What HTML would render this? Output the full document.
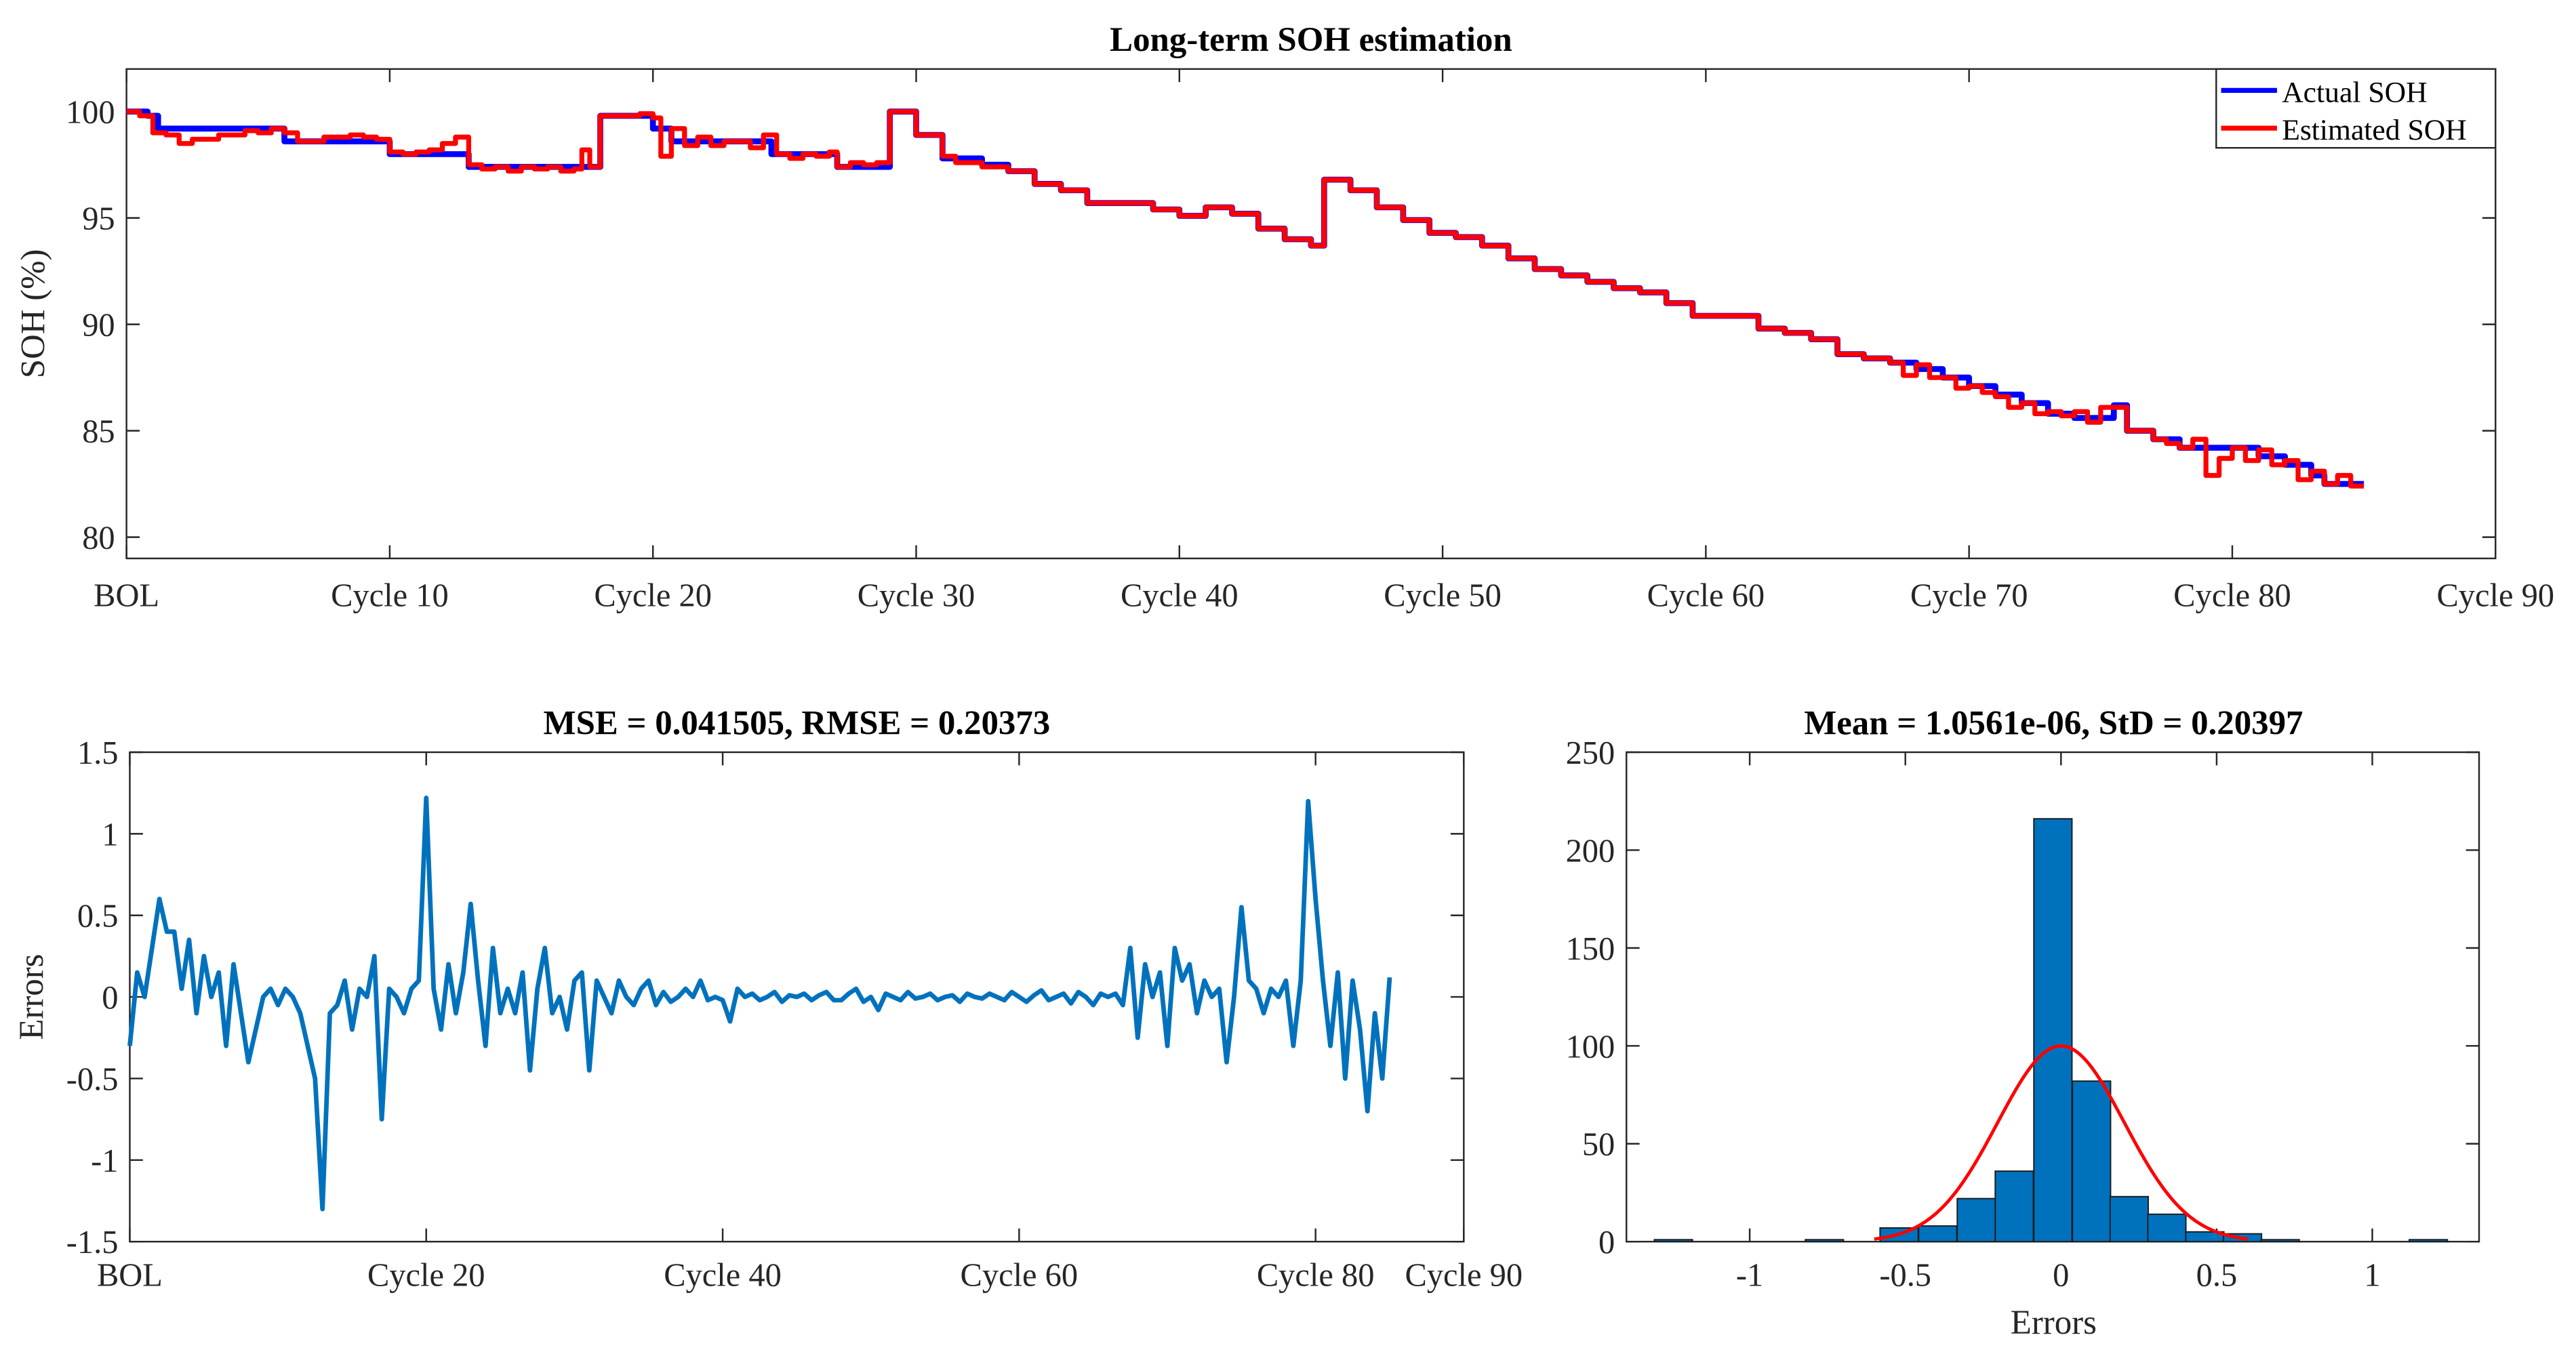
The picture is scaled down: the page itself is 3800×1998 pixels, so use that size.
<!DOCTYPE html>
<html><head><meta charset="utf-8">
<style>
html,body{margin:0;padding:0;background:#fff;}
svg{display:block;font-family:"Liberation Serif","Times New Roman",serif;}
</style></head>
<body>
<svg id="fig" width="3800" height="1998" viewBox="0 0 1568 824.4" xmlns="http://www.w3.org/2000/svg">
<rect width="1568" height="824.4" fill="#fff"/>
<g id="top"></g>
<g id="err"></g>
<g id="hist"></g>
</svg>
<script>
// ---- Top chart data ----
const actualX=[0,0.8,1.2,6,10,13,18,20,20.7,24.5,27,29,30,31,32.5,33.5,34.5,35.5,36.5,39,40,41,42,43,44,45,45.5,46.5,47.5,48.5,49.5,50.5,51.5,52.5,53.5,54.5,55.5,56.5,57.5,58.5,59.5,62,63,64,65,66,67,68,69,70,71,72,73,74,75.5,76,77,78,81,82,83,83.5,85];
const actualY=[100,99.8,99.2,98.6,98.0,97.4,99.8,99.2,98.6,98.0,97.4,100,98.9,97.8,97.5,97.2,96.6,96.3,95.7,95.4,95.1,95.5,95.2,94.5,94.0,93.7,96.8,96.3,95.5,94.9,94.3,94.1,93.7,93.1,92.6,92.3,92.0,91.7,91.5,91.0,90.4,89.8,89.6,89.3,88.6,88.4,88.2,87.9,87.5,87.1,86.7,86.3,85.8,85.6,86.2,85.0,84.6,84.2,83.8,83.4,82.9,82.5,82.5];
const estX=[0,0.5,1,1.5,2,2.5,3,3.5,4,4.5,5,5.5,6,6.5,7,7.5,8,8.5,9,9.5,10,10.5,11,11.5,12,12.5,13,13.5,14,14.5,15,15.5,16,16.5,17,17.3,17.6,18,19,19.5,20,20.3,20.7,21.2,21.7,22.2,22.7,23.2,23.7,24.2,24.7,25.2,25.7,26.2,26.7,27,27.5,28,28.5,29,30,30.5,31,31.5,32,32.5,33.5,34.5,35.5,36.5,39,40,41,42,43,44,45,45.5,46.5,47.5,48.5,49.5,50.5,51.5,52.5,53.5,54.5,55.5,56.5,57.5,58.5,59.5,62,63,64,65,66,67,67.5,68,68.5,69,69.5,70,70.5,71,71.5,72,72.5,73,73.5,74,74.5,75,75.5,76,76.5,77,77.5,78,78.5,79,79.5,80,80.5,81,81.5,82,82.5,83,83.5,84,84.5,85];
const estY=[100,99.8,99.0,98.9,98.5,98.7,98.7,98.9,98.9,99.1,99.0,99.2,99.0,98.6,98.6,98.8,98.8,98.9,98.8,98.7,98.1,98.0,98.1,98.2,98.5,98.8,97.5,97.3,97.4,97.2,97.4,97.3,97.4,97.2,97.3,98.2,97.4,99.8,99.8,99.9,99.7,97.9,99.2,98.4,98.8,98.4,98.6,98.6,98.3,98.9,98.0,97.8,98.0,97.9,98.1,97.4,97.6,97.5,97.6,100,98.9,98.9,97.9,97.6,97.6,97.4,97.2,96.6,96.3,95.7,95.4,95.1,95.5,95.2,94.5,94.0,93.7,96.8,96.3,95.5,94.9,94.3,94.1,93.7,93.1,92.6,92.3,92.0,91.7,91.5,91.0,90.4,89.8,89.6,89.3,88.6,88.4,88.2,87.6,88.1,87.5,87.5,87.0,87.1,86.8,86.6,86.1,86.3,85.8,85.9,85.7,85.9,85.4,86.1,86.1,85.0,85.0,84.6,84.4,84.2,84.6,82.9,83.7,84.2,83.6,84.1,83.4,83.6,82.7,83.1,82.5,82.9,82.4];
const topYTicks=[80,85,90,95,100];
const topXTicks=[0,10,20,30,40,50,60,70,80,90];
const topXLabels=["BOL","Cycle 10","Cycle 20","Cycle 30","Cycle 40","Cycle 50","Cycle 60","Cycle 70","Cycle 80","Cycle 90"];
// ---- Error chart data (every 0.5 cycle from 0) ----
const errVals=[-0.3,0.15,0.0,0.3,0.6,0.4,0.4,0.05,0.35,-0.1,0.25,0.0,0.15,-0.3,0.2,-0.1,-0.4,-0.2,0.0,0.05,-0.05,0.05,0.0,-0.1,-0.3,-0.5,-1.3,-0.1,-0.05,0.1,-0.2,0.05,0.0,0.25,-0.75,0.05,0.0,-0.1,0.05,0.1,1.22,0.05,-0.2,0.2,-0.1,0.15,0.57,0.1,-0.3,0.3,-0.1,0.05,-0.1,0.15,-0.45,0.05,0.3,-0.1,0.0,-0.2,0.1,0.15,-0.45,0.1,0.0,-0.1,0.1,0.0,-0.05,0.05,0.1,-0.05,0.03,-0.03,0.0,0.05,0.0,0.1,-0.02,0.0,-0.02,-0.15,0.05,0.0,0.02,-0.02,0.0,0.03,-0.03,0.01,0.0,0.02,-0.02,0.01,0.03,-0.02,-0.02,0.02,0.05,-0.03,0.0,-0.08,0.02,0.0,-0.02,0.03,-0.01,0.0,0.02,-0.02,0.0,0.01,-0.03,0.02,0.0,-0.01,0.02,0.0,-0.02,0.03,0.0,-0.03,0.01,0.04,-0.02,0.0,0.02,-0.04,0.03,0.0,-0.05,0.02,0.0,0.02,-0.05,0.3,-0.25,0.2,0.0,0.15,-0.3,0.3,0.1,0.2,-0.1,0.1,0.0,0.05,-0.4,0.0,0.55,0.1,0.05,-0.1,0.05,0.0,0.1,-0.3,0.1,1.2,0.6,0.1,-0.3,0.15,-0.5,0.1,-0.2,-0.7,-0.1,-0.5,0.12];
const errYTicks=[-1.5,-1,-0.5,0,0.5,1,1.5];
const errYLabels=["-1.5","-1","-0.5","0","0.5","1","1.5"];
const errXTicks=[0,20,40,60,80,90];
const errXLabels=["BOL","Cycle 20","Cycle 40","Cycle 60","Cycle 80","Cycle 90"];
// ---- Histogram data ----
const binCenters=[-1.245,-0.76,-0.52,-0.396,-0.272,-0.15,-0.026,0.098,0.219,0.34,0.462,0.583,0.704,1.18];
const binCounts=[1,1,7,8,22,36,216,82,23,14,5,4,1,1];
const binWidth=0.1225;
const fitMean=0.0, fitStd=0.20397, fitPeak=100;
const histYTicks=[0,50,100,150,200,250];
const histXTicks=[-1,-0.5,0,0.5,1];
const histXLabels=["-1","-0.5","0","0.5","1"];

const NS="http://www.w3.org/2000/svg";
function mk(parent,tag,attrs,text){const e=document.createElementNS(NS,tag);for(const k in attrs)e.setAttribute(k,attrs[k]);if(text!==undefined)e.textContent=text;parent.appendChild(e);return e;}
function axisBox(g,L,T,R,B){
  const b=mk(g,'rect',{x:L,y:T,width:R-L,height:B-T,fill:'#fff',stroke:'#262626','stroke-width':1});
  
  
}
function lineThrough(g,xs,ys,sx,sy,color,w,name){
  let d='';for(let i=0;i<xs.length;i++)d+=(i?'L':'M')+sx(xs[i]).toFixed(2)+','+sy(ys[i]).toFixed(2);
  const p=mk(g,'path',{d:d,fill:'none',stroke:color,'stroke-width':w,'stroke-linejoin':'round'});
  
  
  return p;
}
function stepThrough(g,xs,ys,sx,sy,color,w,name){
  let d='M'+sx(xs[0])+','+sy(ys[0]);
  for(let i=1;i<xs.length;i++){d+='L'+sx(xs[i])+','+sy(ys[i-1])+'L'+sx(xs[i])+','+sy(ys[i]);}
  const p=mk(g,'path',{d:d,fill:'none',stroke:color,'stroke-width':w,'stroke-linejoin':'round'});
  
  
}

// ===== Top chart =====
(function(){
  const g=document.getElementById('top');
  const L=77,R=1519,T=42,B=340, x0=0,x1=90,y0=79,y1=102;
  const sx=v=>L+(v-x0)/(x1-x0)*(R-L), sy=v=>B-(v-y0)/(y1-y0)*(B-T);
  axisBox(g,L,T,R,B);
  const t=mk(g,'text',{x:798,y:31,'text-anchor':'middle','font-size':21,'font-weight':'bold'},'Long-term SOH estimation');
  
  topXTicks.forEach((v,i)=>{
    const x=sx(v);
    mk(g,'line',{x1:x,y1:B,x2:x,y2:B-8,stroke:'#262626'});
    mk(g,'line',{x1:x,y1:T,x2:x,y2:T+8,stroke:'#262626'});
    const l=mk(g,'text',{x:x,y:369,'text-anchor':'middle','font-size':20,fill:'#262626'},topXLabels[i]);
    
  });
  topYTicks.forEach(v=>{
    const y=sy(v);
    mk(g,'line',{x1:L,y1:y,x2:L+8,y2:y,stroke:'#262626'});
    mk(g,'line',{x1:R,y1:y,x2:R-8,y2:y,stroke:'#262626'});
    const l=mk(g,'text',{x:70,y:y+7,'text-anchor':'end','font-size':20,fill:'#262626'},String(v));
    
  });
  const yl=mk(g,'text',{x:0,y:0,transform:'translate(27,191) rotate(-90)','text-anchor':'middle','font-size':21,fill:'#262626'},'SOH (%)');
  
  stepThrough(g,actualX,actualY,sx,sy,'#0000ff',3.6,'actual-soh-line');
  stepThrough(g,estX,estY,sx,sy,'#ff0000',3,'estimated-soh-line');
  const lg=mk(g,'g',{});
  
  mk(lg,'rect',{x:1349,y:42,width:170,height:48,fill:'#fff',stroke:'#262626','stroke-width':1});
  const e1=mk(lg,'g',{});
  mk(e1,'line',{x1:1352,y1:55,x2:1386,y2:55,stroke:'#0000ff','stroke-width':3});
  mk(e1,'text',{x:1389,y:62,'font-size':18},'Actual SOH');
  const e2=mk(lg,'g',{});
  mk(e2,'line',{x1:1352,y1:78,x2:1386,y2:78,stroke:'#ff0000','stroke-width':3});
  mk(e2,'text',{x:1389,y:85,'font-size':18},'Estimated SOH');
})();

// ===== Error chart =====
(function(){
  const g=document.getElementById('err');
  const L=79,R=891,T=458,B=756, x0=0,x1=90,y0=-1.5,y1=1.5;
  const sx=v=>L+(v-x0)/(x1-x0)*(R-L), sy=v=>B-(v-y0)/(y1-y0)*(B-T);
  axisBox(g,L,T,R,B);
  const t=mk(g,'text',{x:485,y:447,'text-anchor':'middle','font-size':21,'font-weight':'bold'},'MSE = 0.041505, RMSE = 0.20373');
  
  errXTicks.forEach((v,i)=>{
    const x=sx(v);
    mk(g,'line',{x1:x,y1:B,x2:x,y2:B-8,stroke:'#262626'});
    mk(g,'line',{x1:x,y1:T,x2:x,y2:T+8,stroke:'#262626'});
    const l=mk(g,'text',{x:x,y:783,'text-anchor':'middle','font-size':20,fill:'#262626'},errXLabels[i]);
    
  });
  errYTicks.forEach((v,i)=>{
    const y=sy(v);
    mk(g,'line',{x1:L,y1:y,x2:L+8,y2:y,stroke:'#262626'});
    mk(g,'line',{x1:R,y1:y,x2:R-8,y2:y,stroke:'#262626'});
    const l=mk(g,'text',{x:72,y:y+7,'text-anchor':'end','font-size':20,fill:'#262626'},errYLabels[i]);
    
  });
  const yl=mk(g,'text',{x:0,y:0,transform:'translate(26,607) rotate(-90)','text-anchor':'middle','font-size':21,fill:'#262626'},'Errors');
  
  const step=85/(errVals.length-1);
  const xs=errVals.map((v,i)=>i*step);
  lineThrough(g,xs,errVals,sx,sy,'#0072bd',2.8,'error-line');
})();

// ===== Histogram =====
(function(){
  const g=document.getElementById('hist');
  const L=990,R=1509,T=458,B=756, x0=-1.396,x1=1.343,y0=0,y1=250;
  const sx=v=>L+(v-x0)/(x1-x0)*(R-L), sy=v=>B-(v-y0)/(y1-y0)*(B-T);
  axisBox(g,L,T,R,B);
  const t=mk(g,'text',{x:1250,y:447,'text-anchor':'middle','font-size':21,'font-weight':'bold'},'Mean = 1.0561e-06, StD = 0.20397');
  
  histXTicks.forEach((v,i)=>{
    const x=sx(v);
    mk(g,'line',{x1:x,y1:B,x2:x,y2:B-8,stroke:'#262626'});
    mk(g,'line',{x1:x,y1:T,x2:x,y2:T+8,stroke:'#262626'});
    const l=mk(g,'text',{x:x,y:783,'text-anchor':'middle','font-size':20,fill:'#262626'},histXLabels[i]);
    
  });
  histYTicks.forEach(v=>{
    const y=sy(v);
    mk(g,'line',{x1:L,y1:y,x2:L+8,y2:y,stroke:'#262626'});
    mk(g,'line',{x1:R,y1:y,x2:R-8,y2:y,stroke:'#262626'});
    const l=mk(g,'text',{x:983,y:y+7,'text-anchor':'end','font-size':20,fill:'#262626'},String(v));
    
  });
  const xl=mk(g,'text',{x:1250,y:812,'text-anchor':'middle','font-size':21,fill:'#262626'},'Errors');
  
  binCenters.forEach((c,i)=>{
    const xa=sx(c-binWidth/2), xb=sx(c+binWidth/2), y=sy(binCounts[i]);
    const r=mk(g,'rect',{x:xa,y:y,width:xb-xa,height:B-y,fill:'#0072bd',stroke:'#1a1a1a','stroke-width':0.8});
    
    
  });
  const fx=[],fy=[];
  for(let v=-0.6;v<=0.6001;v+=0.01){fx.push(v);fy.push(fitPeak*Math.exp(-0.5*Math.pow((v-fitMean)/fitStd,2)));}
  lineThrough(g,fx,fy,sx,sy,'#ff0000',2,'normal-fit-curve');
})();
</script>
</body></html>
